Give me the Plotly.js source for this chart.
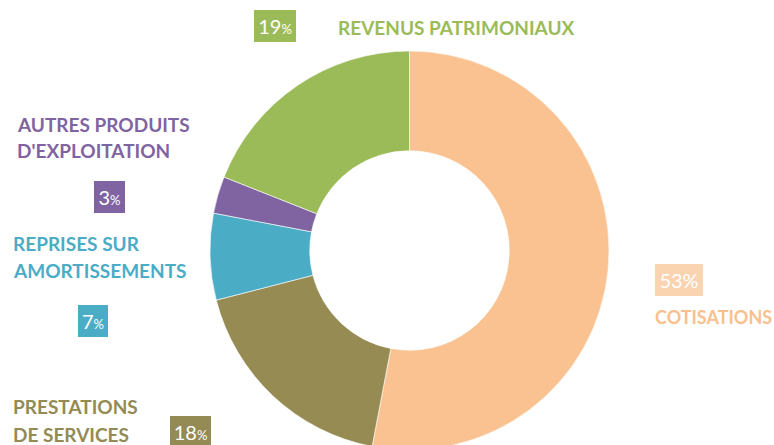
<!DOCTYPE html>
<html>
<head>
<meta charset="utf-8">
<script src="https://cdn.plot.ly/plotly-3.0.1.min.js"></script>
<style>
html,body{margin:0;padding:0;overflow:hidden;background:#fff;}
#chart{width:774px;height:450px;}
</style>
</head>
<body>
<div id="chart"></div>
<script>
// ---- data ----
const categories = ["COTISATIONS", "PRESTATIONS DE SERVICES", "REPRISES SUR AMORTISSEMENTS", "AUTRES PRODUITS D'EXPLOITATION", "REVENUS PATRIMONIAUX"];
const shares = [53, 18, 7, 3, 19];
const sliceColors = ["#F9C290", "#968B53", "#4BACC6", "#8064A2", "#9BBB59"];
const labelLines = [["COTISATIONS"], ["PRESTATIONS", "DE SERVICES"], ["REPRISES SUR", "AMORTISSEMENTS"], ["AUTRES PRODUITS", "D'EXPLOITATION"], ["REVENUS PATRIMONIAUX"]];

// ---- layout helpers (pixel -> paper) ----
const W = 774, H = 450;
const px = x => x / W;
const py = y => 1 - y / H;
const FONT = "Lato, 'Open Sans', sans-serif";

// label placement (layout only)
const labelPos = [
  {x: 654, ys: [317], color: "#F9BF8C", size: 18},
  {x: 12, ys: [406.5, 434.5], color: "#948A54", size: 19},
  {x: 12, ys: [243.5, 270.5], color: "#4BACC6", size: 19},
  {x: 16, ys: [124.5, 150.5], color: "#8064A2", size: 19},
  {x: 337, ys: [28], color: "#9BBB59", size: 19}
];
const boxPos = [
  {x: 655, y: 264, w: 48, h: 32, bg: "#FAD3B0", bigPct: true},
  {x: 170, y: 416, w: 41, h: 32, bg: "#948A54"},
  {x: 78, y: 305, w: 30, h: 32, bg: "#4BACC6"},
  {x: 94, y: 181, w: 31, h: 32, bg: "#8064A2"},
  {x: 254, y: 10, w: 42, h: 32, bg: "#9BBB59"}
];

const annotations = [];
categories.forEach((c, i) => {
  const lp = labelPos[i];
  labelLines[i].forEach((line, k) => {
    annotations.push({
      xref: "paper", yref: "paper", x: px(lp.x), y: py(lp.ys[k]),
      xanchor: "left", yanchor: "middle", showarrow: false,
      text: "<b>" + line + "</b>",
      font: {family: FONT, size: lp.size, color: lp.color},
      borderpad: 0
    });
  });
  const b = boxPos[i];
  const pct = b.bigPct ? shares[i] + "%" : shares[i] + "<span style='font-size:13px'>%</span>";
  annotations.push({
    xref: "paper", yref: "paper", x: px(b.x), y: py(b.y),
    xanchor: "left", yanchor: "top", showarrow: false,
    width: b.w, height: b.h, bgcolor: b.bg, borderpad: 0, borderwidth: 0,
    align: "center", valign: "middle",
    text: pct,
    font: {family: FONT, size: 20, color: "#FFFFFF"}
  });
});

const trace = {
  type: "pie",
  values: shares,
  labels: categories,
  hole: 0.5,
  sort: false,
  direction: "clockwise",
  rotation: 0,
  textinfo: "none",
  hoverinfo: "label+percent",
  marker: {colors: sliceColors, line: {color: "#FFFFFF", width: 0.6}},
  domain: {x: [px(210), px(609)], y: [0, 399 / H]},
  showlegend: false
};

const layout = {
  width: W, height: H,
  margin: {l: 0, r: 0, t: 0, b: 0},
  paper_bgcolor: "#FFFFFF",
  showlegend: false,
  annotations: annotations
};

Plotly.newPlot("chart", [trace], layout, {displayModeBar: false, staticPlot: true});
</script>
</body>
</html>
